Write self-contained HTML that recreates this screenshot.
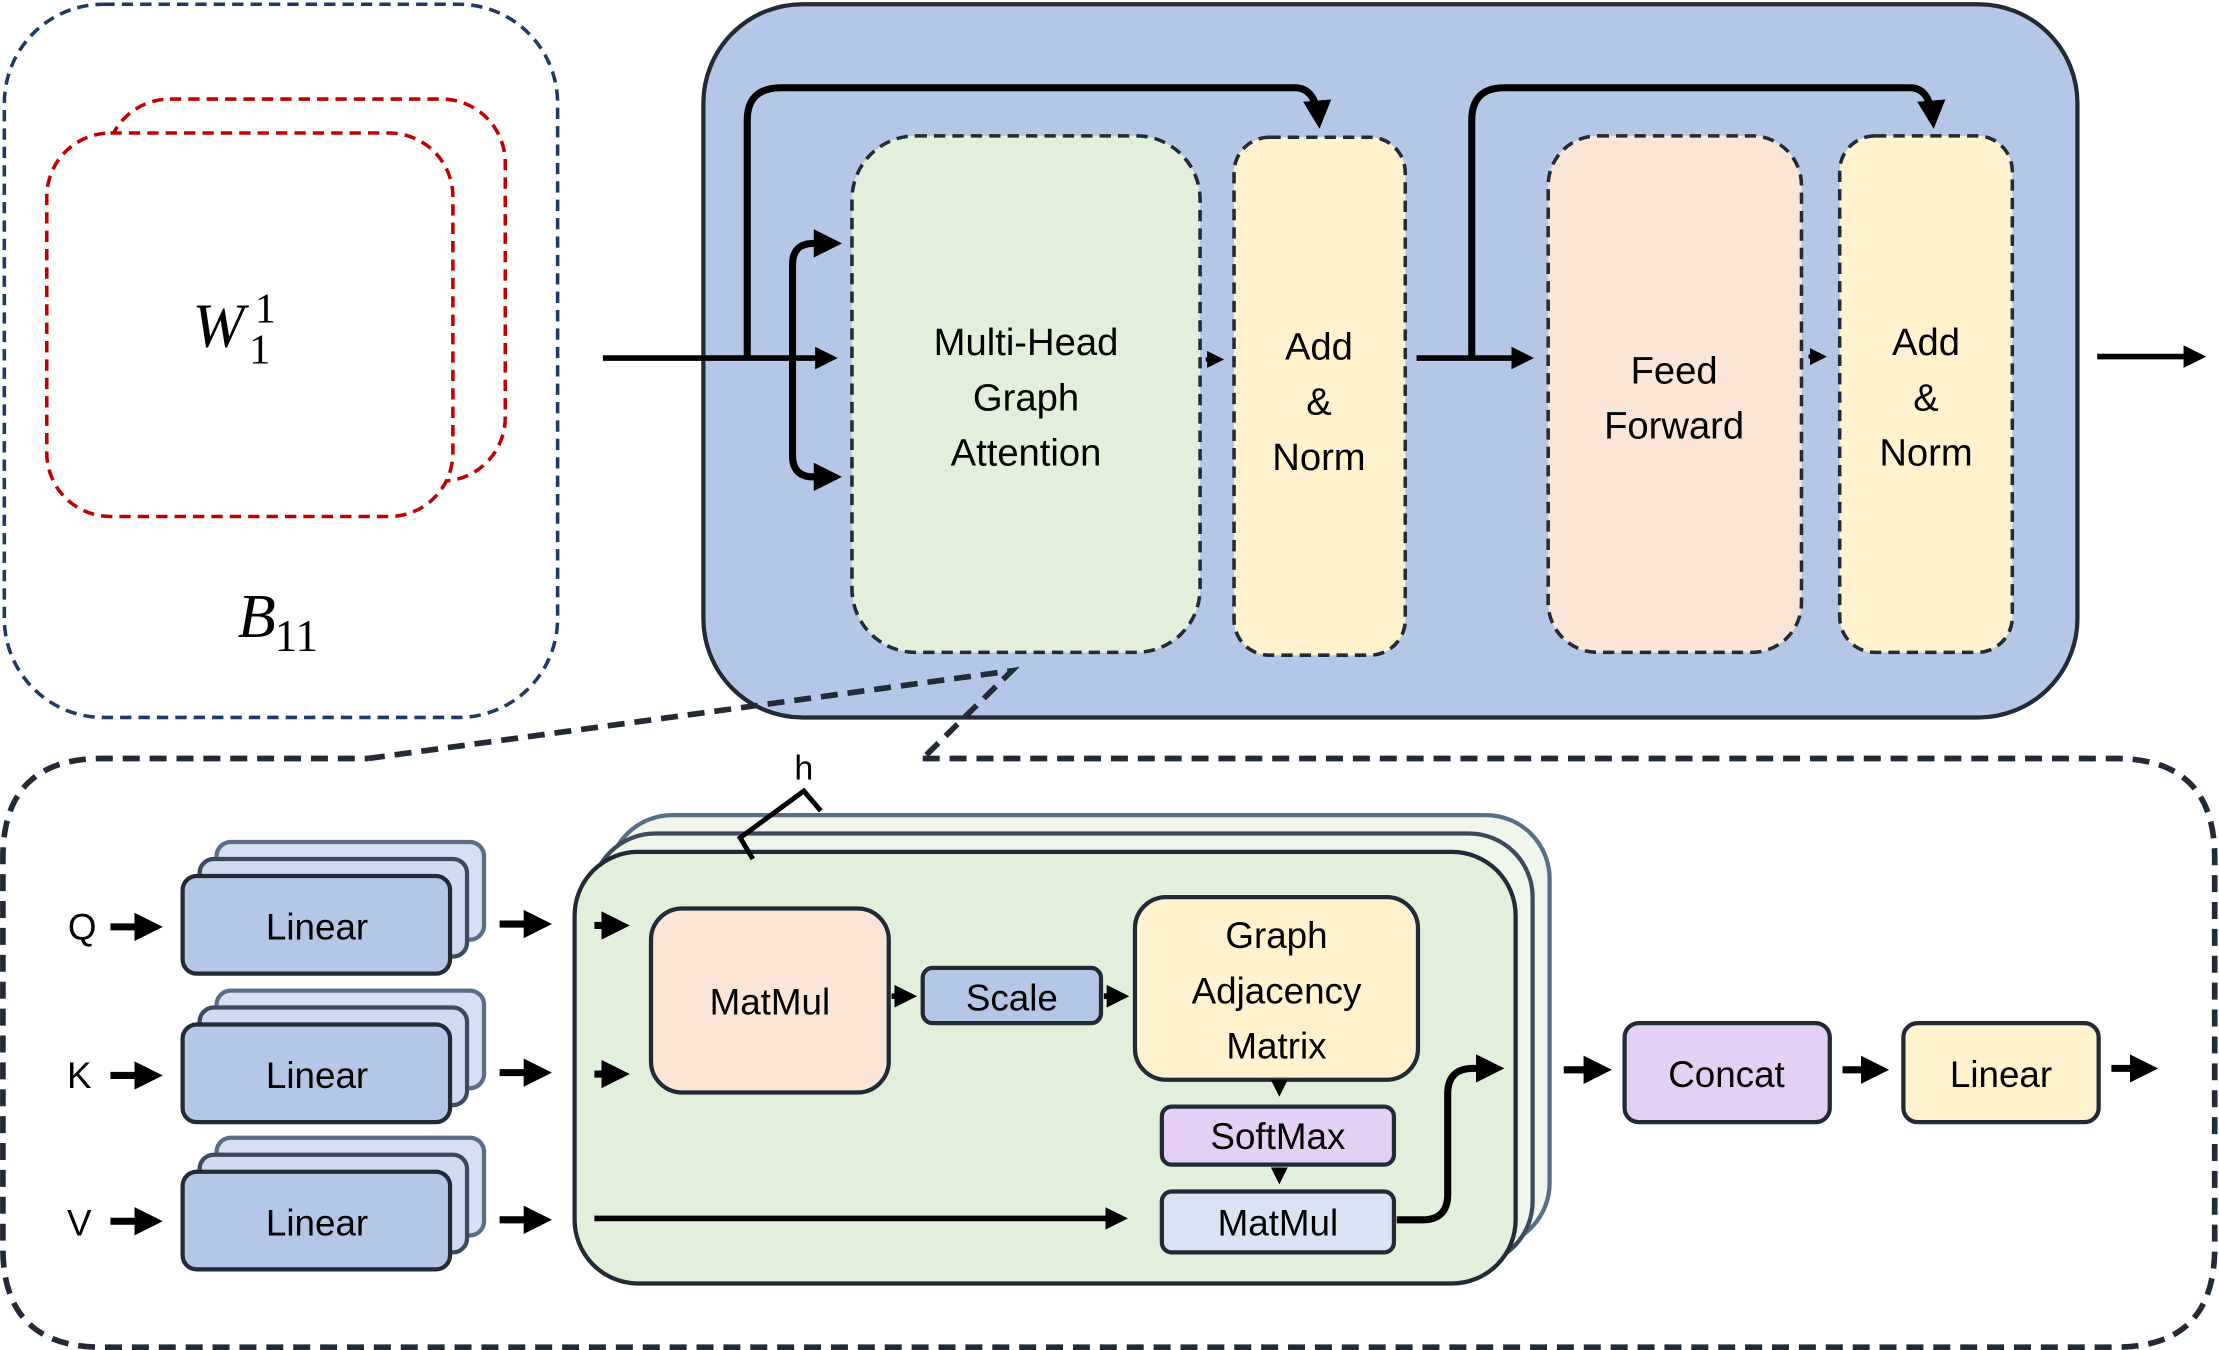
<!DOCTYPE html>
<html><head><meta charset="utf-8"><style>html,body{margin:0;padding:0;background:#fff}svg{display:block}</style></head>
<body>
<svg width="2219" height="1350" viewBox="0 0 1568 954" xmlns="http://www.w3.org/2000/svg" font-family="Liberation Sans, sans-serif">
<defs>
<marker id="a" markerWidth="4" markerHeight="4" refX="3" refY="2" orient="auto" markerUnits="strokeWidth"><path d="M0,0 L4,2 L0,4 z" fill="#000"/></marker>
</defs>
<rect x="3" y="3" width="391" height="504" rx="70" fill="none" stroke="#1f3864" stroke-width="2.5" stroke-dasharray="8,5"/>
<rect x="75" y="70" width="282" height="270" rx="45" fill="#fff" stroke="#c00000" stroke-width="2.5" stroke-dasharray="8,5"/>
<rect x="33" y="94" width="287" height="271" rx="45" fill="#fff" stroke="#c00000" stroke-width="2.5" stroke-dasharray="8,5"/>
<text x="136" y="245" font-family="Liberation Serif, serif" font-style="italic" font-size="44">W</text>
<text x="180" y="228" font-family="Liberation Serif, serif" font-size="30">1</text>
<text x="176" y="257" font-family="Liberation Serif, serif" font-size="30">1</text>
<text x="168" y="450" font-family="Liberation Serif, serif" font-style="italic" font-size="44">B</text>
<text x="194" y="460" font-family="Liberation Serif, serif" font-size="32">11</text>
<rect x="497" y="3" width="971" height="504" rx="70" fill="#b4c7e7" stroke="#222a35" stroke-width="3"/>
<g stroke="#222a35" stroke-width="2.5" stroke-dasharray="8,5">
<rect x="602" y="96" width="246" height="365" rx="45" fill="#e2efda"/>
<rect x="872" y="97" width="121" height="366" rx="25" fill="#fff2cc"/>
<rect x="1094" y="96" width="179" height="365" rx="35" fill="#fbe5d6"/>
<rect x="1300" y="96" width="122" height="365" rx="25" fill="#fff2cc"/>
</g>
<g font-size="27" text-anchor="middle" fill="#000">
<text x="725" y="251">Multi-Head</text><text x="725" y="290">Graph</text><text x="725" y="329">Attention</text>
<text x="932" y="254">Add</text><text x="932" y="293">&amp;</text><text x="932" y="332">Norm</text>
<text x="1183" y="271">Feed</text><text x="1183" y="310">Forward</text>
<text x="1361" y="251">Add</text><text x="1361" y="290">&amp;</text><text x="1361" y="329">Norm</text>
</g>
<g fill="none" stroke="#000" stroke-width="5">
<path d="M426,253 L588,253" marker-end="url(#a)" stroke-width="4"/>
<path d="M528,253 L528,85 Q528,62 552,62 L915,62 Q930,62 932,86" marker-end="url(#a)"/>
<path d="M590,172 L575,172 Q560,172 560,187 L560,322 Q560,337 575,337 L590,337"/>
<path d="M580,172 L590,172" marker-end="url(#a)"/>
<path d="M580,337 L590,337" marker-end="url(#a)"/>
<path d="M852,254 L862,254" marker-end="url(#a)" stroke-width="3"/>
<path d="M1001,253 L1080,253" marker-end="url(#a)" stroke-width="4"/>
<path d="M1040,253 L1040,85 Q1040,62 1063,62 L1350,62 Q1364,62 1366,86" marker-end="url(#a)"/>
<path d="M1278,252 L1288,252" marker-end="url(#a)" stroke-width="3"/>
<path d="M1482,252 L1555,252" marker-end="url(#a)" stroke-width="4"/>
</g>
<g fill="none" stroke="#222a35" stroke-width="4" stroke-dasharray="12,7">
<path d="M260,536 L715,474 L652,536"/>
<path d="M652,536 L1495,536 Q1565,536 1565,606 L1565,882 Q1565,952 1495,952 L72,952 Q2,952 2,882 L2,606 Q2,536 72,536 L260,536"/>
</g>
<g stroke="#222a35" stroke-width="3">
<g>
<rect x="153" y="595" width="189" height="69" rx="10" fill="#d6e0f0" stroke="#5a6e8a"/>
<rect x="141" y="607" width="189" height="69" rx="10" fill="#cfdcf0" stroke="#3b4a5e"/>
<rect x="129" y="619" width="189" height="69" rx="10" fill="#b4c7e7"/>
</g>
<g transform="translate(0,105)">
<rect x="153" y="595" width="189" height="69" rx="10" fill="#d6e0f0" stroke="#5a6e8a"/>
<rect x="141" y="607" width="189" height="69" rx="10" fill="#cfdcf0" stroke="#3b4a5e"/>
<rect x="129" y="619" width="189" height="69" rx="10" fill="#b4c7e7"/>
</g>
<g transform="translate(0,209)">
<rect x="153" y="595" width="189" height="69" rx="10" fill="#d6e0f0" stroke="#5a6e8a"/>
<rect x="141" y="607" width="189" height="69" rx="10" fill="#cfdcf0" stroke="#3b4a5e"/>
<rect x="129" y="619" width="189" height="69" rx="10" fill="#b4c7e7"/>
</g>
</g>
<g font-size="26" text-anchor="middle">
<text x="224" y="664">Linear</text><text x="224" y="769">Linear</text><text x="224" y="873">Linear</text>
<text x="58" y="664">Q</text><text x="56" y="769">K</text><text x="56" y="873">V</text>
</g>
<g stroke-width="3">
<rect x="430" y="576" width="665" height="305" rx="45" fill="#f0f6ec" stroke="#5a6e8a"/>
<rect x="418" y="589" width="665" height="305" rx="45" fill="#eef5e9" stroke="#3b4a5e"/>
<rect x="406" y="602" width="665" height="305" rx="45" fill="#e2efda" stroke="#222a35"/>
</g>
<path d="M532,607 L523,592 L568,559 L580,573" fill="none" stroke="#000" stroke-width="3.5"/>
<text x="568" y="551" font-size="24" text-anchor="middle">h</text>
<g stroke="#222a35" stroke-width="3">
<rect x="460" y="642" width="168" height="130" rx="22" fill="#fbe5d6"/>
<rect x="652" y="684" width="126" height="39" rx="7" fill="#b4c7e7"/>
<rect x="802" y="634" width="200" height="129" rx="22" fill="#fff2cc"/>
<rect x="821" y="782" width="164" height="41" rx="7" fill="#e4cff5"/>
<rect x="821" y="842" width="164" height="43" rx="7" fill="#dae3f3"/>
<rect x="1148" y="723" width="145" height="70" rx="10" fill="#e4cff5"/>
<rect x="1345" y="723" width="138" height="70" rx="10" fill="#fff2cc"/>
</g>
<g font-size="26" text-anchor="middle">
<text x="544" y="717">MatMul</text>
<text x="715" y="714">Scale</text>
<text x="902" y="670">Graph</text><text x="902" y="709">Adjacency</text><text x="902" y="748">Matrix</text>
<text x="903" y="812">SoftMax</text>
<text x="903" y="873">MatMul</text>
<text x="1220" y="768">Concat</text>
<text x="1414" y="768">Linear</text>
</g>
<g fill="none" stroke="#000" stroke-width="5">
<path d="M78,655 L110,655" marker-end="url(#a)"/>
<path d="M78,760 L110,760" marker-end="url(#a)"/>
<path d="M78,863 L110,863" marker-end="url(#a)"/>
<path d="M353,653 L385,653" marker-end="url(#a)"/>
<path d="M353,758 L385,758" marker-end="url(#a)"/>
<path d="M353,862 L385,862" marker-end="url(#a)"/>
<path d="M420,654 L440,654" marker-end="url(#a)"/>
<path d="M420,759 L440,759" marker-end="url(#a)"/>
<path d="M630,704 L644,704" marker-end="url(#a)" stroke-width="4"/>
<path d="M780,704 L794,704" marker-end="url(#a)" stroke-width="4"/>
<path d="M904,764 L904,772" marker-end="url(#a)" stroke-width="3"/>
<path d="M904,825 L904,834" marker-end="url(#a)" stroke-width="3"/>
<path d="M420,861 L793,861" marker-end="url(#a)" stroke-width="4"/>
<path d="M987,862 L1005,862 Q1023,862 1023,844 L1023,773 Q1023,755 1041,755 L1058,755" marker-end="url(#a)"/>
<path d="M1105,756 L1134,756" marker-end="url(#a)"/>
<path d="M1302,756 L1330,756" marker-end="url(#a)"/>
<path d="M1492,755 L1520,755" marker-end="url(#a)"/>
</g>
</svg>
</body></html>
